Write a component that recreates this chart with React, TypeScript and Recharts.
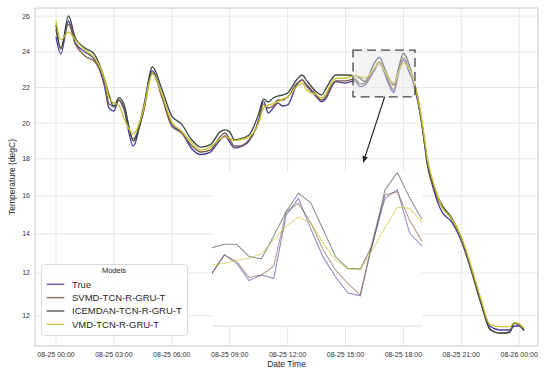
import React from 'react';
import { LineChart, Line, XAxis, YAxis, CartesianGrid, ReferenceArea, ReferenceLine, Legend } from 'recharts';

// hours since 08-25 00:00
const TIMES = [0, 0.25, 0.65, 1, 1.5, 2, 2.5, 2.75, 3, 3.25, 3.5, 4, 4.5, 5, 5.5, 6, 6.5, 7, 7.5, 8, 8.5, 8.75, 9, 9.25, 9.5, 10, 10.5, 10.75, 11, 11.25, 11.5, 11.75, 12, 12.5, 12.75, 13, 13.5, 13.75, 14, 14.25, 14.5, 15, 15.5, 15.75, 16, 16.5, 16.75, 17, 17.25, 17.5, 17.75, 18, 18.25, 18.5, 18.75, 19, 19.25, 19.5, 19.75, 20, 20.5, 21, 21.5, 22, 22.5, 23, 23.5, 23.75, 24, 24.25];

const TRUE_T = [24.85, 23.88, 25.73, 24.5, 23.99, 23.57, 22.14, 20.85, 20.68, 21.3, 20.85, 18.72, 20.74, 22.93, 21.52, 19.9, 19.51, 18.61, 18.24, 18.38, 19.06, 19.28, 18.94, 18.61, 18.66, 19.0, 20.18, 21.24, 20.57, 20.85, 21.12, 20.96, 21.02, 22.2, 22.42, 22.08, 21.47, 21.21, 21.41, 21.97, 22.33, 22.25, 22.37, 22.05, 22.14, 22.98, 23.36, 22.87, 22.14, 21.72, 22.81, 23.54, 22.98, 22.31, 21.19, 19.6, 17.6, 16.53, 15.64, 15.02, 14.46, 13.39, 11.77, 9.97, 8.59, 8.4, 8.4, 8.62, 8.62, 8.36];
const SVMD_T = [25.28, 24.22, 25.56, 24.44, 23.77, 23.46, 22.31, 21.08, 20.96, 21.3, 20.96, 19.12, 20.46, 22.82, 21.41, 19.84, 19.45, 18.78, 18.38, 18.5, 19.23, 19.45, 19.11, 18.72, 18.72, 19.06, 20.07, 21.08, 20.85, 20.96, 21.3, 21.3, 21.47, 22.25, 22.42, 22.14, 21.58, 21.3, 21.52, 22.08, 22.37, 22.37, 22.48, 22.2, 22.25, 23.09, 23.43, 22.98, 22.31, 21.86, 22.98, 23.66, 23.21, 22.42, 21.3, 19.65, 17.7, 16.62, 15.85, 15.3, 14.62, 13.5, 11.85, 10.0, 8.45, 8.22, 8.27, 8.78, 8.68, 8.4];
const ICEMDAN_T = [25.51, 24.16, 26.01, 24.78, 24.22, 23.85, 22.53, 21.58, 20.91, 21.43, 21.13, 19.0, 20.57, 23.15, 21.86, 20.4, 19.96, 19.11, 18.66, 18.8, 19.51, 19.62, 19.51, 19.06, 19.11, 19.34, 20.52, 21.36, 21.19, 21.41, 21.52, 21.58, 21.69, 22.48, 22.7, 22.37, 21.75, 21.58, 21.97, 22.42, 22.7, 22.7, 22.65, 22.52, 22.33, 23.38, 23.69, 23.15, 22.53, 22.14, 23.09, 23.92, 23.43, 22.53, 21.41, 19.72, 17.8, 16.72, 15.95, 15.4, 14.7, 13.55, 11.88, 10.02, 8.4, 8.22, 8.27, 8.78, 8.68, 8.4];
const VMD_T = [25.75, 24.67, 25.11, 24.67, 24.1, 23.66, 22.53, 21.41, 21.13, 21.02, 20.35, 19.39, 20.63, 22.76, 21.58, 20.07, 19.56, 18.94, 18.5, 18.66, 19.11, 19.23, 19.14, 19.03, 19.06, 19.23, 20.01, 20.85, 21.02, 21.08, 21.19, 21.36, 21.47, 22.08, 22.25, 21.86, 21.58, 21.41, 21.69, 22.2, 22.51, 22.53, 22.67, 22.6, 22.52, 23.09, 23.36, 22.98, 22.53, 22.23, 22.87, 23.36, 23.15, 22.53, 21.41, 19.85, 17.95, 16.85, 16.0, 15.3, 14.65, 13.62, 12.0, 10.2, 8.68, 8.59, 8.59, 8.81, 8.74, 8.49];

// zoomed inset (steps inside the dashed box)
const INSET_STEPS = [0, 1, 2, 3, 4, 5, 6, 7, 8, 9, 10, 11, 12, 13, 14, 15, 16, 17];
const INSET_TRUE = [22.1, 22.43, 22.28, 21.97, 22.07, 22.01, 23.14, 23.44, 22.89, 22.39, 22.04, 21.75, 21.7, 22.64, 23.44, 23.59, 22.82, 22.59];
const INSET_SVMD = [22.1, 22.43, 22.31, 22.03, 22.07, 22.23, 23.2, 23.35, 23.0, 22.52, 22.16, 21.92, 21.71, 22.69, 23.5, 23.56, 23.05, 22.67];
const INSET_ICEMDAN = [22.56, 22.62, 22.62, 22.4, 22.36, 22.77, 23.2, 23.53, 23.36, 22.88, 22.4, 22.19, 22.18, 22.61, 23.59, 23.9, 23.45, 23.06];
const INSET_VMD = [22.25, 22.28, 22.34, 22.37, 22.45, 22.7, 22.94, 23.11, 23.0, 22.64, 22.34, 22.18, 22.16, 22.52, 22.91, 23.28, 23.26, 23.01];

const X_TICKS = [0, 3, 6, 9, 12, 15, 18, 21, 24];
const X_LABELS = ['08-25 00:00', '08-25 03:00', '08-25 06:00', '08-25 09:00', '08-25 12:00', '08-25 15:00', '08-25 18:00', '08-25 21:00', '08-26 00:00'];
const Y_TICKS = [26, 24, 22, 20, 18, 15.92, 13.79, 11.6, 9.2];
const Y_LABELS = ['26', '24', '22', '20', '18', '16', '14', '12', '12'];

const SERIES = [
  { key: 't', name: 'True', color: '#4a3d9c' },
  { key: 's', name: 'SVMD-TCN-R-GRU-T', color: '#7d5f49' },
  { key: 'ic', name: 'ICEMDAN-TCN-R-GRU-T', color: '#3d4d43' },
  { key: 'v', name: 'VMD-TCN-R-GRU-T', color: '#c9c030' },
];

const mainData = TIMES.map((h, i) => ({ h, t: TRUE_T[i], s: SVMD_T[i], ic: ICEMDAN_T[i], v: VMD_T[i] }));
const insetData = INSET_STEPS.map((k, i) => ({ k, t: INSET_TRUE[i], s: INSET_SVMD[i], ic: INSET_ICEMDAN[i], v: INSET_VMD[i] }));

const FONT = '"Liberation Sans", Arial, sans-serif';

const Arrow = (p: any) => {
  const { x1, y1, x2, y2 } = p;
  const ang = Math.atan2(y2 - y1, x2 - x1);
  const L = 7, W = 2.8;
  const bx = x2 - L * Math.cos(ang);
  const by = y2 - L * Math.sin(ang);
  const px = -Math.sin(ang) * W;
  const py = Math.cos(ang) * W;
  return (
    <g>
      <line x1={x1} y1={y1} x2={bx} y2={by} stroke="#222" strokeWidth={1.1} />
      <polygon points={`${x2},${y2} ${bx + px},${by + py} ${bx - px},${by - py}`} fill="#222" />
    </g>
  );
};

const LegendBox = () => (
  <svg width={147} height={72} style={{ display: 'block', fontFamily: FONT }}>
    <rect x={0.5} y={0.5} width={146} height={71} rx={3} fill="#ffffff" fillOpacity={0.9} stroke="#d9d9d9" />
    <text x={73} y={8.8} textAnchor="middle" fontSize={7.5} fill="#262626">Models</text>
    {SERIES.map((s, i) => {
      const cy = 20.3 + i * 13.35;
      return (
        <g key={s.key}>
          <line x1={5.7} x2={23.3} y1={cy} y2={cy} stroke={s.color} strokeWidth={1.5} strokeOpacity={0.85} />
          <text x={31} y={cy + 3.4} fontSize={9.5} fill="#262626">{s.name}</text>
        </g>
      );
    })}
  </svg>
);

export default function App() {
  return (
    <div style={{ position: 'absolute', left: 0, top: 0, width: 550, height: 373, background: '#ffffff', fontFamily: FONT }}>
      <LineChart width={550} height={373} data={mainData} margin={{ top: 8, right: 12, bottom: 0, left: 0 }}>
        <CartesianGrid stroke="#e6e6e6" strokeWidth={1} />
        <XAxis
          dataKey="h"
          type="number"
          domain={[-1.088, 24.974]}
          allowDataOverflow
          ticks={X_TICKS}
          interval={0}
          tickFormatter={(v: number) => X_LABELS[X_TICKS.indexOf(v)]}
          tick={{ fontSize: 7, fill: '#333333', fontFamily: FONT }}
          tickLine={false}
          tickSize={0}
          tickMargin={6}
          axisLine={false}
          height={27}
          label={{ value: 'Date Time', position: 'insideBottom', offset: 6, fontSize: 8.5, fill: '#262626', fontFamily: FONT }}
        />
        <YAxis
          type="number"
          domain={[7.5, 26.46]}
          allowDataOverflow
          ticks={Y_TICKS}
          interval={0}
          tickFormatter={(v: number) => Y_LABELS[Y_TICKS.indexOf(v)]}
          tick={{ fontSize: 7, fill: '#333333', fontFamily: FONT }}
          tickLine={false}
          tickSize={0}
          tickMargin={5}
          axisLine={false}
          width={35}
          label={{ value: 'Temperature (degC)', angle: -90, position: 'insideLeft', offset: 12, fontSize: 8.5, fill: '#262626', fontFamily: FONT, style: { textAnchor: 'middle' } }}
        />
        <ReferenceArea x1={-1.088} x2={24.974} y1={7.5} y2={26.46} fill="none" stroke="#d2d2d2" strokeWidth={1} ifOverflow="visible" />
        {SERIES.map((s) => (
          <Line
            key={s.key}
            dataKey={s.key}
            name={s.name}
            type="monotone"
            stroke={s.color}
            strokeWidth={1.35}
            dot={false}
            activeDot={false}
            isAnimationActive={false}
          />
        ))}
        <ReferenceArea
          x1={15.39}
          x2={18.6}
          y1={21.48}
          y2={24.1}
          fill="#e6e6e6"
          fillOpacity={0.45}
          stroke="#444444"
          strokeWidth={1.3}
          strokeDasharray="9 5"
          ifOverflow="visible"
          zIndex={450}
        />
        <ReferenceLine
          segment={[{ x: 17.03, y: 21.48 }, { x: 15.91, y: 17.77 }]}
          shape={Arrow}
          ifOverflow="visible"
          zIndex={460}
        />
        <Legend
          layout="horizontal"
          verticalAlign="middle"
          align="center"
          content={() => <LegendBox />}
          wrapperStyle={{ position: 'absolute', left: 41, top: 264, width: 147, height: 72 }}
        />
      </LineChart>

      <div style={{ position: 'absolute', left: 212, top: 172, width: 210, height: 155, background: '#ffffff' }}>
        <LineChart width={210} height={155} data={insetData} margin={{ top: 0, right: 0, bottom: 0, left: 0 }}>
          <XAxis dataKey="k" type="number" domain={[0, 17]} ticks={[]} tick={false} tickLine={false} height={1} axisLine={{ stroke: '#dddddd' }} />
          <YAxis hide type="number" domain={[21.16, 23.91]} allowDataOverflow />
          {SERIES.map((s) => (
            <Line
              key={s.key}
              dataKey={s.key}
              name={s.name}
              type="linear"
              stroke={s.color}
              strokeOpacity={0.6}
              strokeWidth={1.1}
              dot={false}
              activeDot={false}
              isAnimationActive={false}
            />
          ))}
        </LineChart>
      </div>
    </div>
  );
}
